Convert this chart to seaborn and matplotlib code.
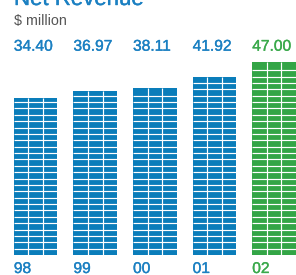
import matplotlib
matplotlib.use("Agg")
import matplotlib.pyplot as plt
import matplotlib.transforms as mtransforms
import matplotlib.patheffects as pe
import seaborn as sns
import pandas as pd

years = ["98", "99", "00", "01", "02"]
revenue = [34.40, 36.97, 38.11, 41.92, 47.00]
value_labels = ["34.40", "36.97", "38.11", "41.92", "47.00"]
title = "Net Revenue"
subtitle = "$ million"

BLUE = "#0a7dba"
GREEN = "#33a546"
colors = [BLUE, BLUE, BLUE, BLUE, GREEN]

sns.set_theme(style="white")
plt.rcParams["font.family"] = ["Liberation Sans", "DejaVu Sans"]

W, H = 296, 275
fig = plt.figure(figsize=(W / 100, H / 100), dpi=100)
ax_bottom_px = 255
ax_top_px = 55
ax = fig.add_axes([0, (H - ax_bottom_px) / H, 1, (ax_bottom_px - ax_top_px) / H])

base = -21.04          # visual baseline of the infographic scale
k = 2.831              # px per unit
ymax = base + (ax_bottom_px - ax_top_px) / k

df = pd.DataFrame({"year": years, "revenue": [v - base for v in revenue]})
sns.barplot(data=df, x="year", y="revenue", hue="year", palette=colors,
            order=years, width=0.732, legend=False, ax=ax, bottom=base,
            saturation=1, edgecolor="none")

pitch_px = 59.6
x_left = -35.65 / pitch_px
x_right = (W - 35.65) / pitch_px
ax.set_xlim(x_left, x_right)
ax.set_ylim(base, ymax)
ax.axis("off")

# brick pattern: white mortar lines, per bar
row = 6.37 / k
for p in ax.patches:
    x0, w = p.get_x(), p.get_width()
    top = p.get_y() + p.get_height()
    y = base + row
    while y < top - 0.3 * row:
        ax.hlines(y, x0, x0 + w, color="white", lw=0.85, zorder=5)
        y += row
    for f in (1 / 3, 2 / 3):
        ax.vlines(x0 + w * f, base, top, color="white", lw=0.85, zorder=5)

trans = mtransforms.blended_transform_factory(ax.transData, fig.transFigure)
for i, (lab, yr) in enumerate(zip(value_labels, years)):
    c = "#1b80c2" if i < 4 else "#3aa94b"
    xl = i - 0.732 / 2
    eff = [pe.withStroke(linewidth=0.25, foreground=c)]
    ax.text(xl, 1 - 50.7 / H, lab, transform=trans, ha="left", va="baseline",
            fontsize=11.2, color=c, clip_on=False, path_effects=eff)
    ax.text(xl, 1 - 273 / H, yr, transform=trans, ha="left", va="baseline",
            fontsize=11.2, color=c, clip_on=False, path_effects=eff)

fig.text(14 / W, 1 - 5 / H, title, ha="left", va="baseline", fontsize=16,
         color="#1b80c2",
         path_effects=[pe.withStroke(linewidth=0.3, foreground="#1b80c2")])
fig.text(14 / W, 1 - 25.5 / H, subtitle, ha="left", va="baseline",
         fontsize=10.3, color="#555555")

fig.savefig("out.png", dpi=100)
